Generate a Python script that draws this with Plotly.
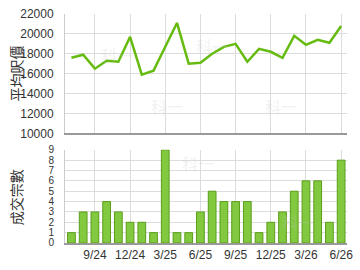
import plotly.graph_objects as go

months = ["7/24","8/24","9/24","10/24","11/24","12/24","1/25","2/25","3/25","4/25","5/25","6/25",
          "7/25","8/25","9/25","10/25","11/25","12/25","1/26","2/26","3/26","4/26","5/26","6/26"]
avg_price = [17600,17900,16500,17300,17200,19700,15900,16300,18700,21100,17000,17100,
             18000,18700,19000,17200,18500,18200,17600,19800,18900,19400,19100,20800]
deals = [1,3,3,4,3,2,2,1,9,1,1,3,5,4,4,4,1,2,3,5,6,6,2,8]
tick_labels = ["9/24","12/24","3/25","6/25","9/25","12/25","3/26","6/26"]

x = list(range(len(months)))
tickvals = [months.index(t) for t in tick_labels]

fig = go.Figure()
fig.add_trace(go.Scatter(x=x, y=avg_price, mode="lines", line=dict(color="#66bb11", width=2.5),
                         xaxis="x", yaxis="y", showlegend=False))
fig.add_trace(go.Bar(x=x, y=deals, marker=dict(color="#82c940", line=dict(color="#5a9e1a", width=1)),
                     width=0.66, xaxis="x2", yaxis="y2", showlegend=False))

font = dict(family="Liberation Sans, Arial", size=11, color="#333")
grid = "#dcdcdc"
common_x = dict(range=[-0.55, 23.5], tickvals=tickvals, showgrid=True, gridcolor=grid, gridwidth=1,
                showline=True, linecolor="#999", linewidth=2, zeroline=False, ticks="")
fig.update_layout(
    width=360, height=270, margin=dict(l=65, r=7, t=7, b=27),
    paper_bgcolor="white", plot_bgcolor="white", font=font,
    xaxis=dict(common_x, domain=[0, 1], anchor="y", showticklabels=False),
    xaxis2=dict(common_x, domain=[0, 1], anchor="y2", ticktext=tick_labels, showticklabels=True,
                tickfont=dict(size=12)),
    yaxis=dict(domain=[0.479, 1], range=[10000, 22000], dtick=2000, tickformat="d", showgrid=True,
               gridcolor=grid, showline=True, linecolor="#ccc", linewidth=1, zeroline=False,
               anchor="x", ticks="", ticklabelstandoff=8, tickfont=dict(size=12)),
    yaxis2=dict(domain=[0, 0.407], range=[0, 9], dtick=1, showgrid=True, gridcolor=grid,
                showline=True, linecolor="#ccc", linewidth=1, zeroline=False, anchor="x2",
                ticks="", ticklabelstandoff=8, tickfont=dict(size=10)),
    bargap=0.3,
)
cjk = dict(family="Noto Sans CJK TC", size=14, color="#333")
fig.add_annotation(text="平均呎價", textangle=-90, xref="paper", yref="paper",
                   x=-0.174, y=0.74, xanchor="center", yanchor="middle", showarrow=False, font=cjk)
fig.add_annotation(text="成交宗數", textangle=-90, xref="paper", yref="paper",
                   x=-0.174, y=0.2, xanchor="center", yanchor="middle", showarrow=False, font=cjk)
wm = dict(family="Noto Sans CJK TC", size=16, color="rgba(200,200,200,0.25)")
for (xx, yy) in [(0.12, 0.88), (0.52, 0.92), (0.83, 0.6), (0.36, 0.6), (0.47, 0.35), (0.89, 0.03)]:
    fig.add_annotation(text="科一", xref="paper", yref="paper", x=xx, y=yy, showarrow=False, font=wm)
fig.write_html("out.html")
